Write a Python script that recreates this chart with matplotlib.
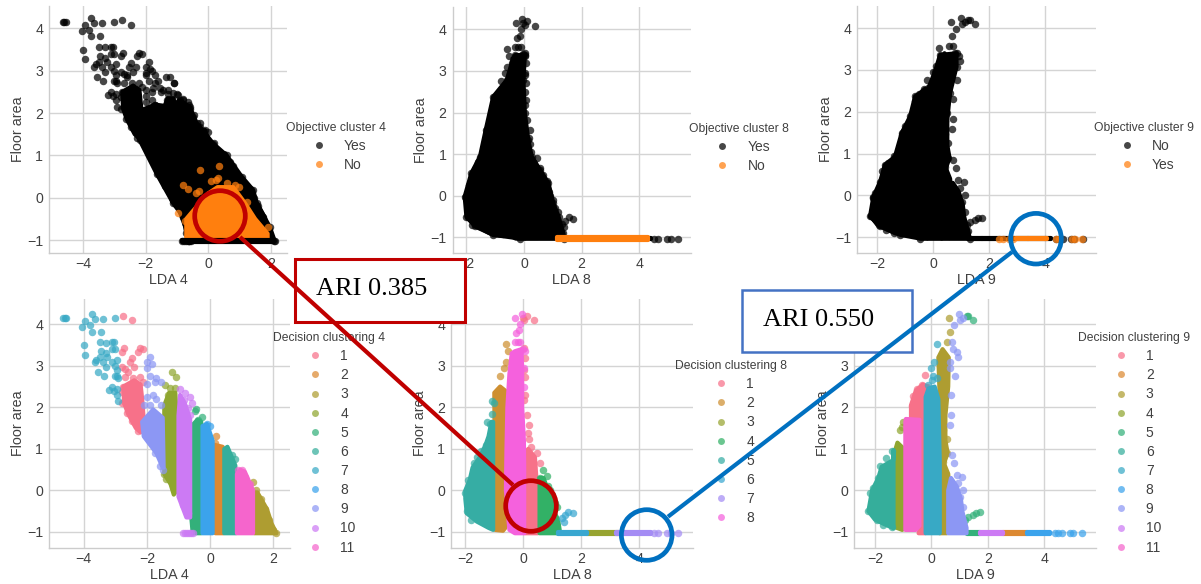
import matplotlib
matplotlib.use('Agg')
import matplotlib.pyplot as plt
from matplotlib.lines import Line2D
from matplotlib.patches import Circle, Polygon, Rectangle

plt.rcParams['font.family'] = ['Liberation Sans', 'DejaVu Sans']

FIG_W, FIG_H = 1201, 584

COLORS_11 = ['#f77189', '#dc8932', '#ae9d31', '#8fa62f', '#33b07a', '#35ae9b',
             '#38a9c5', '#3ba3ec', '#8c97f4', '#cc7af4', '#f565cc']
COLORS_8 = ['#f77189', '#ce8f31', '#97a431', '#32b166', '#36ada4', '#39a7d0', '#a48cf4', '#f561dd']
BLACK = '#000000'
ORANGE = '#ff7f0e'

LABELS_11 = ['1', '2', '3', '4', '5', '6', '7', '8', '9', '10', '11']
LABELS_8 = ['1', '2', '3', '4', '5', '6', '7', '8']

# LDA 4 clusters
A1_PTS = [(-2.77, 4.2), (-2.48, 4.09), (-2.71, 3.42), (-2.78, 3.34), (-2.22, 3.42), (-2.27, 3.34),
          (-2.11, 3.4), (-2.48, 3.18), (-2.53, 3.08), (-2.69, 2.92), (-2.8, 2.96), (-2.4, 2.96),
          (-2.59, 2.86), (-2.69, 2.72), (-2.43, 2.7), (-2.22, 2.72), (-2.11, 2.62), (-2.75, 2.5),
          (-2.8, 2.38), (-2.8, 2.1), (-2.69, 2.14), (-2.64, 1.86), (-2.48, 1.66), (-2.27, 1.42)]
A1_BODY = [(-2.75, 2.5), (-2.4, 2.65), (-2.2, 2.55), (-2.15, 2.2), (-2.1, 1.7), (-2.2, 1.4),
           (-2.35, 1.5), (-2.6, 1.85), (-2.72, 2.1)]
A2_PTS = [(0.2, 1.3), (0.15, 1.15)]
A2_BODY = [(0.13, 1.1), (0.4, 1.05), (0.42, -1.03), (0.17, -1.03)]
A3_PTS = [(1.35, 0.2), (1.45, 0.0), (1.6, -0.2), (1.75, -0.45), (1.85, -0.7), (2.0, -0.95), (2.1, -1.03)]
A3_BODY = [(1.38, -0.05), (1.5, -0.05), (1.8, -0.45), (1.95, -0.8), (2.1, -1.03), (1.4, -1.03)]
A4_PTS = [(-1.21, 2.86), (-1.09, 2.72), (-1.43, 2.54), (-1.27, 2.46), (-1.11, 2.47), (-1.32, 2.3),
          (-1.2, 2.3), (-1.45, 0.4), (-1.38, 0.28)]
A4_BODY = [(-1.45, 2.05), (-1.3, 2.35), (-1.1, 2.35), (-1.05, 1.7), (-1.05, 0), (-1.15, -0.1),
           (-1.25, 0.15), (-1.45, 0.4)]
A5_PTS = [(-0.44, 1.95), (-0.48, 1.9), (-0.26, 1.76), (-0.37, 1.7), (-0.5, -0.85), (-0.45, -0.95)]
A5_BODY = [(-0.65, 1.5), (-0.4, 1.7), (-0.28, 1.65), (-0.28, -1.03), (-0.55, -1.03), (-0.6, -0.6)]
A6_PTS = [(0.8, 0.75), (0.7, 0.85)]
A6_BODY = [(0.45, 1.0), (0.55, 1.05), (0.8, 0.6), (0.82, -1.03), (0.45, -1.03)]
A7_PTS = [(-4.65, 4.15), (-4.6, 4.15), (-4.55, 4.15), (-3.75, 4.25), (-3.95, 4.08), (-3.65, 4.13),
          (-3.8, 3.97), (-4.05, 3.93), (-3.4, 4.13), (-3.0, 4.15), (-3.45, 3.82), (-3.75, 3.82),
          (-4.0, 3.5), (-3.95, 3.27), (-3.5, 3.57), (-3.3, 3.55), (-3.1, 3.57), (-3.05, 3.57),
          (-3.0, 3.4), (-3.1, 3.4), (-3.45, 3.35), (-3.3, 3.3), (-3.6, 3.15), (-3.5, 3.2),
          (-3.4, 3.1), (-3.25, 3.2), (-3.1, 3.1), (-2.95, 3.15), (-3.65, 3.1), (-3.3, 2.97),
          (-3.0, 3.0), (-2.95, 2.9), (-3.55, 2.85), (-3.35, 2.75), (-3.0, 2.75), (-2.95, 2.75),
          (-3.1, 2.5), (-3.2, 2.42), (-3.05, 2.4), (-2.95, 2.45), (-2.95, 2.3), (-2.9, 2.15), (-2.9, 2.7)]
A8_PTS = [(-0.1, 1.6), (0.0, 1.55)]
A8_BODY = [(-0.24, 1.55), (-0.1, 1.6), (0.08, 1.2), (0.08, -1.03), (-0.24, -1.03)]
A9_PTS = [(-1.9, 3.2), (-2.0, 3.1), (-1.85, 3.05), (-2.0, 2.95), (-1.9, 2.75), (-1.7, 2.7),
          (-1.55, 2.6), (-1.75, 2.6), (-2.0, 2.55), (-1.8, 2.3), (-2.0, 2.25), (-1.7, 2.2),
          (-2.1, 2.05), (-1.9, 2.05), (-1.55, 2.05), (-1.6, 0.6), (-1.5, 0.5), (-1.75, 0.9)]
A9_BODY = [(-2.15, 1.65), (-1.8, 1.95), (-1.5, 1.75), (-1.47, 0.55), (-1.5, 0.55), (-1.7, 0.9), (-2.1, 1.3)]
A10_PTS = [(-0.95, 2.43), (-0.79, 2.34), (-0.65, 2.26), (-0.84, 2.18), (-0.58, 2.1), (-0.69, 1.98),
           (-0.63, 1.82), (-0.7, -0.55), (-0.85, -0.35), (-0.85, -1.03), (-0.78, -1.03), (-0.72, -1.03),
           (-0.66, -1.03), (-0.6, -1.03), (-0.55, -1.03)]
A10_BODY = [(-1.0, 1.8), (-0.95, 2.3), (-0.8, 2.1), (-0.63, 1.7), (-0.63, -0.65), (-0.75, -0.65), (-1.0, -0.15)]
A11_PTS = [(1.0, 0.5), (0.88, 0.48), (1.1, 0.32), (1.25, 0.15)]
A11_BODY = [(0.85, 0.4), (0.95, 0.5), (1.1, 0.45), (1.36, 0.0), (1.36, -1.03), (0.85, -1.03)]
LDA4_CLUSTERS = [(A1_PTS, A1_BODY), (A2_PTS, A2_BODY), (A3_PTS, A3_BODY), (A4_PTS, A4_BODY),
                 (A5_PTS, A5_BODY), (A6_PTS, A6_BODY), (A7_PTS, []), (A8_PTS, A8_BODY),
                 (A9_PTS, A9_BODY), (A10_PTS, A10_BODY), (A11_PTS, A11_BODY)]

# LDA 8 clusters
B1_PTS = [(-0.02, 4.15), (0.02, 4.1), (0.11, 4.2), (0.38, 4.09), (0.02, 3.42), (0.06, 3.18),
          (0.02, 2.9), (0.06, 2.72), (0.06, 2.3), (0.02, 2.18), (0.11, 1.82), (0.21, 1.58),
          (0.17, 1.38), (0.21, 1.25), (0.25, 1.05), (0.57, 0.67), (0.46, 0.9), (0.34, 0.57)]
B1_BODY = [(0.06, 0.55), (0.06, 0.9), (0.17, 1.0), (0.4, 0.8), (0.45, 0.3), (0.5, 0.2), (0.52, -0.9),
           (0.5, -1.03), (0.06, -1.03)]
B2_PTS = [(-0.6, 3.52), (-0.66, 2.94), (-0.8, 2.76), (-0.52, 3.36), (-0.58, 3.1)]
B2_BODY = [(-1.0, 2.35), (-0.8, 2.5), (-0.62, 2.4), (-0.62, -0.9), (-0.7, -0.97), (-0.97, -0.95)]
B3_BODY = [(2.2, -1.05), (3.3, -1.05), (3.3, -1.01), (2.2, -1.01)]
B4_PTS = [(0.67, 0.5), (0.8, 0.35), (0.57, 0.3), (0.86, 0.1), (0.92, 0.0), (1.0, -0.1), (1.09, -0.3), (1.17, -0.4)]
B4_BODY = [(0.56, 0.3), (0.7, 0.3), (0.85, 0.0), (0.95, -0.15), (1.05, -0.5), (1.2, -0.7), (1.27, -1.03), (0.56, -1.03)]
B5_PTS = [(-1.08, 2.15), (-1.0, 2.1), (-1.08, 1.85), (-1.25, 1.65), (-1.15, 1.6), (-1.6, 0.8), (-1.7, 0.65),
          (-1.95, 0.0), (-2.0, -0.05), (-1.9, 0.25), (-1.95, -0.5), (-1.8, -0.7), (-1.3, 1.1), (-1.45, 0.95)]
B5_BODY = [(-2.0, -0.0), (-1.85, 0.25), (-1.75, 0.55), (-1.5, 0.8), (-1.3, 1.1), (-1.2, 1.3), (-1.1, 1.65),
           (-1.04, 1.65), (-1.04, -0.95), (-1.2, -0.9), (-1.6, -0.75), (-1.95, -0.55), (-2.0, -0.2)]
B6_PTS = [(1.32, -0.67), (1.44, -0.6), (1.55, -0.52), (1.7, -0.55), (1.4, -0.75)]
B6_BODY = [(1.2, -1.05), (2.2, -1.05), (2.2, -1.01), (1.2, -1.01)]
B7_PTS = [(4.5, -1.03), (4.65, -1.03), (4.95, -1.03), (5.1, -1.03), (5.35, -1.03)]
B7_BODY = [(3.2, -1.05), (4.4, -1.05), (4.4, -1.01), (3.2, -1.01)]
B8_PTS = [(-0.29, 4.14), (-0.06, 4.25), (-0.1, 4.0), (-0.15, 3.85), (-0.25, 3.8), (-0.3, 3.57), (-0.2, 3.57),
          (-0.1, 3.57), (-0.02, 3.4), (0.05, 3.35), (0.03, 2.95), (0.03, 2.5)]
B8_BODY = [(-0.55, 2.0), (-0.48, 2.8), (-0.4, 3.3), (-0.29, 3.35), (-0.06, 3.4), (-0.04, 2.8), (-0.04, 2.0),
           (0.02, 1.2), (0.03, 0.55), (0.03, -1.03), (-0.29, -1.03), (-0.48, -0.95), (-0.6, 0.0), (-0.58, 1.0)]
LDA8_CLUSTERS = [(B1_PTS, B1_BODY), (B2_PTS, B2_BODY), ([], B3_BODY), (B4_PTS, B4_BODY),
                 (B5_PTS, B5_BODY), (B6_PTS, B6_BODY), (B7_PTS, B7_BODY), (B8_PTS, B8_BODY)]

# LDA 9 clusters
C1_PTS = [(-0.22, 2.77), (-0.52, 2.43), (-0.34, 2.54), (-0.14, 2.5), (-0.64, 2.27), (-0.7, 2.03)]
C1_BODY = [(-0.72, 1.7), (-0.72, 2.05), (-0.55, 2.4), (-0.3, 2.55), (-0.13, 2.5), (-0.25, 2.2), (-0.22, 1.0),
           (-0.22, -1.03), (-0.45, -1.03), (-0.38, -0.85), (-0.38, 1.7)]
C2_BODY = [(2.55, -1.05), (3.38, -1.05), (3.38, -1.01), (2.55, -1.01)]
C3_PTS = [(0.63, 4.14), (0.66, 3.82), (0.57, 3.58), (0.43, 1.78), (0.43, 1.46), (0.54, 1.25), (0.43, 1.13),
          (0.43, 0.9), (0.54, 0.9), (0.37, 0.81), (0.43, 0.69)]
C3_BODY = [(0.25, 3.2), (0.4, 3.4), (0.62, 3.2), (0.6, 2.5), (0.5, 1.8), (0.5, 1.2), (0.58, 0.9), (0.45, 0.65),
           (0.6, 0.4), (0.65, 0.0), (0.55, -1.03), (0.3, -1.03), (0.3, 0.4), (0.38, 0.7), (0.36, 1.0), (0.38, 1.6), (0.3, 2.2)]
C4_PTS = [(-1.05, 1.53), (-1.0, 1.65), (-1.12, 1.45)]
C4_BODY = [(-1.31, 0.9), (-1.2, 1.15), (-0.97, 1.0), (-0.97, -0.9), (-1.03, -0.95), (-1.3, -0.88)]
C5_PTS = [(1.25, 4.2), (1.31, 4.2), (1.49, 4.09), (1.31, -0.63), (1.49, -0.59), (1.6, -0.55), (1.73, -0.53), (1.19, -0.71)]
C5_BODY = [(1.25, -1.05), (1.73, -1.05), (1.73, -1.01), (1.25, -1.01)]
C6_PTS = [(-1.4, 0.95), (-1.6, 0.77), (-1.82, 0.59), (-1.88, 0.29), (-2.08, 0.05), (-2.17, -0.05), (-2.23, -0.5),
          (-2.15, -0.39), (-1.94, -0.71), (-1.7, -0.82), (-1.4, -0.89)]
C6_BODY = [(-2.23, -0.5), (-2.1, 0.0), (-1.88, 0.3), (-1.76, 0.57), (-1.35, 0.73), (-1.34, 0.97), (-1.34, -0.91),
           (-1.7, -0.8), (-2.0, -0.7)]
C7_PTS = [(0.19, 3.52), (0.1, 3.1), (-0.02, 2.94), (0.07, 2.76), (0.01, 2.66), (-0.1, 2.54), (0.19, 2.7)]
C7_BODY = [(-0.2, -1.03), (-0.2, 1.8), (-0.2, 2.25), (-0.1, 2.45), (0.12, 2.5), (0.25, 2.2), (0.3, 0.7), (0.3, -1.03)]
C8_PTS = [(4.39, -1.03), (4.5, -1.03), (4.62, -1.03), (4.92, -1.03), (5.04, -1.03), (5.33, -1.03)]
C8_BODY = [(3.38, -1.05), (4.2, -1.05), (4.2, -1.01), (3.38, -1.01)]
C9_PTS = [(0.99, 4.25), (1.13, 4.14), (1.02, 4.1), (0.8, 3.97), (0.72, 3.58), (0.78, 3.4), (0.92, 3.34), (0.96, 3.22),
          (0.66, 3.1), (0.66, 2.94), (0.84, 2.76), (0.69, 2.3), (0.69, 1.82), (0.66, 1.58), (0.72, 0.85), (0.8, 0.65),
          (0.9, 0.37), (1.08, 0.33), (0.96, 0.17), (1.13, 0.01), (1.02, -0.15), (1.13, -0.39)]
C9_BODY = [(0.6, 0.0), (0.7, 0.3), (0.9, 0.1), (1.05, -0.2), (1.1, -0.5), (1.25, -0.9), (1.25, -1.03), (0.6, -1.03)]
C10_BODY = [(1.73, -1.05), (2.55, -1.05), (2.55, -1.01), (1.73, -1.01)]
C11_BODY = [(-0.92, 1.65), (-0.9, 1.72), (-0.42, 1.7), (-0.42, -0.85), (-0.55, -0.95), (-0.92, -0.95)]
LDA9_CLUSTERS = [(C1_PTS, C1_BODY), ([], C2_BODY), (C3_PTS, C3_BODY), (C4_PTS, C4_BODY), (C5_PTS, C5_BODY),
                 (C6_PTS, C6_BODY), (C7_PTS, C7_BODY), (C8_PTS, C8_BODY), (C9_PTS, C9_BODY), ([], C10_BODY),
                 ([], C11_BODY)]

# dense outlines of the black clouds in the top row
LDA4_CLOUD = [(-2.19, 1.36), (-2.4, 1.7), (-2.2, 2.05), (-1.7, 2.2), (-1.2, 2.15), (-0.9, 2.3), (-0.59, 2.15), (-0.37, 1.76),
              (-0.27, 1.68), (0.16, 1.28), (0.59, 1.0), (1.07, 0.5), (1.44, 0.18), (1.55, -0.13), (1.97, -0.69), (2.13, -1.03),
              (-0.6, -1.03), (-0.7, -0.84), (-0.8, -0.45), (-1.12, -0.13), (-1.65, 0.57)]
LDA4_EXTRA = [(-2.6, 2.9), (-2.3, 3.1), (-2.0, 2.9), (-1.8, 3.0), (-1.7, 2.9), (-1.6, 2.75), (-1.35, 2.85), (-1.1, 2.7),
              (-2.3, 2.5), (-2.0, 2.4), (-1.8, 2.5), (-1.5, 2.5), (-1.3, 2.55), (-1.0, 2.45), (-0.8, 2.3), (-0.6, 2.2)]
LDA8_CLOUD = [(-2.06, -0.02), (-1.83, 0.54), (-1.53, 0.94), (-1.33, 1.58), (-1.07, 2.38), (-0.6, 2.78), (-0.43, 3.18), (-0.31, 3.38),
              (0.03, 3.38), (-0.02, 2.78), (0.03, 1.98), (0.15, 1.34), (0.27, 0.94), (0.56, 0.62), (0.85, 0.3), (1.02, -0.18),
              (1.2, -0.5), (1.37, -0.9), (1.4, -1.03), (-0.14, -1.03), (-1.07, -0.94), (-1.7, -0.74), (-2.0, -0.5)]
LDA9_CLOUD = [(-2.26, -0.5), (-2.14, -0.03), (-1.9, 0.33), (-1.73, 0.73), (-1.37, 0.93), (-1.13, 1.49), (-0.83, 1.89), (-0.65, 2.37),
              (-0.18, 2.56), (0.06, 2.96), (0.24, 3.36), (0.83, 3.4), (0.83, 3.08), (0.6, 2.45), (0.48, 1.97), (0.4, 1.1),
              (0.42, 0.5), (0.75, 0.1), (1.0, -0.4), (1.25, -0.85), (1.3, -1.03), (-0.48, -1.03), (-1.19, -0.94), (-1.9, -0.74)]

# orange groups of the top row
OBJ4_PTS = [(0.35, 0.75), (-0.25, 0.65), (0.3, 0.47), (0.1, 0.4), (0.25, 0.42), (-0.8, 0.3), (-0.65, 0.2), (-0.3, 0.15),
            (-0.4, 0.1), (1.0, 0.25), (1.25, -0.1), (-0.95, -0.35), (0.6, 0.35), (0.85, 0.3), (-0.75, -0.55), (1.9, -0.7)]
OBJ4_BODY = [(-0.7, -0.95), (-0.7, -0.5), (-0.3, -0.15), (0.0, 0.1), (0.3, 0.25), (0.8, 0.25), (1.15, -0.1), (1.5, -0.5),
             (1.9, -0.85), (1.9, -0.95)]
OBJ4_STRIP = [(-0.85, -1.05), (2.1, -1.05), (2.1, -1.01), (-0.85, -1.01)]
OBJ8_BODY = [(1.15, -1.06), (4.3, -1.06), (4.3, -1.0), (1.15, -1.0)]
OBJ9_PTS = [(2.35, -1.03), (2.5, -1.03), (2.7, -1.03), (2.85, -1.03), (4.38, -1.03), (4.5, -1.03), (4.94, -1.03),
            (5.06, -1.03), (5.3, -1.03)]
OBJ9_BODY = [(2.95, -1.05), (4.05, -1.05), (4.05, -1.01), (2.95, -1.01)]

X_TICKS_4 = [-4, -2, 0, 2]
X_TICKS_8 = [-2, 0, 2, 4]
Y_TICKS = [-1, 0, 1, 2, 3, 4]


def frac(x, y):
    return x / FIG_W, 1 - y / FIG_H


def make_axes(fig, box, xlim, ylim, xticks, xlabel):
    left, top, right, bottom = box
    ax = fig.add_axes([left / FIG_W, 1 - bottom / FIG_H, (right - left) / FIG_W, (bottom - top) / FIG_H])
    ax.set_xlim(xlim)
    ax.set_ylim(ylim)
    ax.set_xticks(xticks)
    ax.set_yticks(Y_TICKS)
    ax.grid(True, color='#d4d4d4', lw=1.0)
    ax.set_axisbelow(True)
    ax.tick_params(axis='x', length=0, pad=3, labelsize=10.2, labelcolor='#404040')
    ax.tick_params(axis='y', length=0, pad=4.5, labelsize=10.2, labelcolor='#404040')
    for side in ['top', 'right']:
        ax.spines[side].set_visible(False)
    for side in ['left', 'bottom']:
        ax.spines[side].set_color('#cccccc')
        ax.spines[side].set_linewidth(1.0)
    ax.set_xlabel(xlabel, fontsize=10.3, color='#404040', labelpad=1.5)
    ax.set_ylabel('Floor area', fontsize=10.3, color='#404040', labelpad=1.5)
    return ax


def draw_group(ax, pts, body, color, z):
    if body:
        ax.add_patch(Polygon(body, closed=True, facecolor=color, edgecolor=color, lw=3.0,
                             joinstyle='round', zorder=z))
    if pts:
        ax.scatter([p[0] for p in pts], [p[1] for p in pts], s=29, color=color, alpha=0.72,
                   linewidths=0, zorder=z + 0.5, clip_on=False)


def add_legend(ax, title, labels, colors, center_x, top_y):
    handles = [Line2D([], [], ls='', marker='o', ms=5.0, mew=0, color=c, alpha=0.72) for c in colors]
    leg = ax.legend(handles, labels, title=title, loc='upper center', bbox_to_anchor=frac(center_x, top_y),
                    bbox_transform=ax.figure.transFigure, frameon=False, fontsize=10.0, title_fontsize=8.7,
                    borderpad=0, borderaxespad=0, labelspacing=0.37)
    leg.get_title().set_color('#404040')
    for txt in leg.get_texts():
        txt.set_color('#404040')


fig = plt.figure(figsize=(FIG_W / 100, FIG_H / 100), dpi=100)

# top row, all objective groups in black with the orange one on top
ax = make_axes(fig, (49.3, 6, 287, 253), (-5.08, 2.52), (-1.307, 4.53), X_TICKS_4, 'LDA 4')
draw_group(ax, LDA4_EXTRA + LDA4_CLOUD, LDA4_CLOUD, BLACK, 2)
for pts, body in LDA4_CLUSTERS:
    draw_group(ax, pts, body, BLACK, 2)
draw_group(ax, OBJ4_PTS, OBJ4_BODY, ORANGE, 3)
draw_group(ax, [], OBJ4_STRIP, BLACK, 4)
add_legend(ax, 'Objective cluster 4', ['Yes', 'No'], [BLACK, ORANGE], 336, 122)

ax = make_axes(fig, (452.7, 7, 690.7, 253), (-2.476, 5.79), (-1.377, 4.536), X_TICKS_8, 'LDA 8')
draw_group(ax, LDA8_CLOUD, LDA8_CLOUD, BLACK, 2)
for pts, body in LDA8_CLUSTERS:
    draw_group(ax, pts, body, BLACK, 2)
draw_group(ax, [], OBJ8_BODY, ORANGE, 3)
add_legend(ax, 'Objective cluster 8', ['Yes', 'No'], [BLACK, ORANGE], 739.3, 123)

ax = make_axes(fig, (857.3, 6, 1095.7, 253), (-2.714, 5.8), (-1.376, 4.53), X_TICKS_8, 'LDA 9')
draw_group(ax, LDA9_CLOUD, LDA9_CLOUD, BLACK, 2)
for pts, body in LDA9_CLUSTERS:
    draw_group(ax, pts, body, BLACK, 2)
draw_group(ax, OBJ9_PTS, OBJ9_BODY, ORANGE, 3)
add_legend(ax, 'Objective cluster 9', ['No', 'Yes'], [BLACK, ORANGE], 1144, 122)

# bottom row, decision clusters
ax = make_axes(fig, (49.3, 299.3, 290, 547.7), (-5.09, 2.53), (-1.378, 4.60), X_TICKS_4, 'LDA 4')
for i, (pts, body) in enumerate(LDA4_CLUSTERS):
    draw_group(ax, pts, body, COLORS_11[i], 2 + i)
add_legend(ax, 'Decision clustering 4', LABELS_11, COLORS_11, 328.7, 332)

ax = make_axes(fig, (451.3, 299.3, 692.7, 547.7), (-2.483, 5.84), (-1.378, 4.60), X_TICKS_8, 'LDA 8')
for i, (pts, body) in enumerate(LDA8_CLUSTERS):
    draw_group(ax, pts, body, COLORS_8[i], 2 + i)
add_legend(ax, 'Decision clustering 8', LABELS_8, COLORS_8, 730.7, 360)

ax = make_axes(fig, (854.3, 299.3, 1095.7, 547.7), (-2.73, 5.83), (-1.378, 4.60), X_TICKS_8, 'LDA 9')
for i, (pts, body) in enumerate(LDA9_CLUSTERS):
    draw_group(ax, pts, body, COLORS_11[i], 2 + i)
add_legend(ax, 'Decision clustering 9', LABELS_11, COLORS_11, 1134, 332)

# callouts pasted over the charts, in pixel coordinates
ov = fig.add_axes([0, 0, 1, 1], zorder=20)
ov.set_xlim(0, FIG_W)
ov.set_ylim(FIG_H, 0)
ov.axis('off')
RED = '#c00000'
BLUE = '#0070c0'
ov.plot([240, 513], [237, 485], color=RED, lw=3.0, solid_capstyle='butt')
ov.plot([1012, 668], [252, 516.7], color=BLUE, lw=3.0, solid_capstyle='butt')
for cx, cy, col in [(220, 216, RED), (531, 506, RED), (1036, 238.7, BLUE), (646.7, 535, BLUE)]:
    ov.add_patch(Circle((cx, cy), 25.3, fill=False, edgecolor=col, lw=3.4))
ov.add_patch(Rectangle((295, 258.5), 170, 63.5, facecolor='white', edgecolor=RED, lw=2.2))
ov.add_patch(Rectangle((741.5, 289.5), 170, 62.5, facecolor='white', edgecolor='#4472c4', lw=1.8))
ov.text(372, 289, 'ARI 0.385', family='Liberation Serif', fontsize=19, ha='center', va='center', color='black')
ov.text(818.5, 320, 'ARI 0.550', family='Liberation Serif', fontsize=19, ha='center', va='center', color='black')

fig.savefig('out.png', dpi=100)
